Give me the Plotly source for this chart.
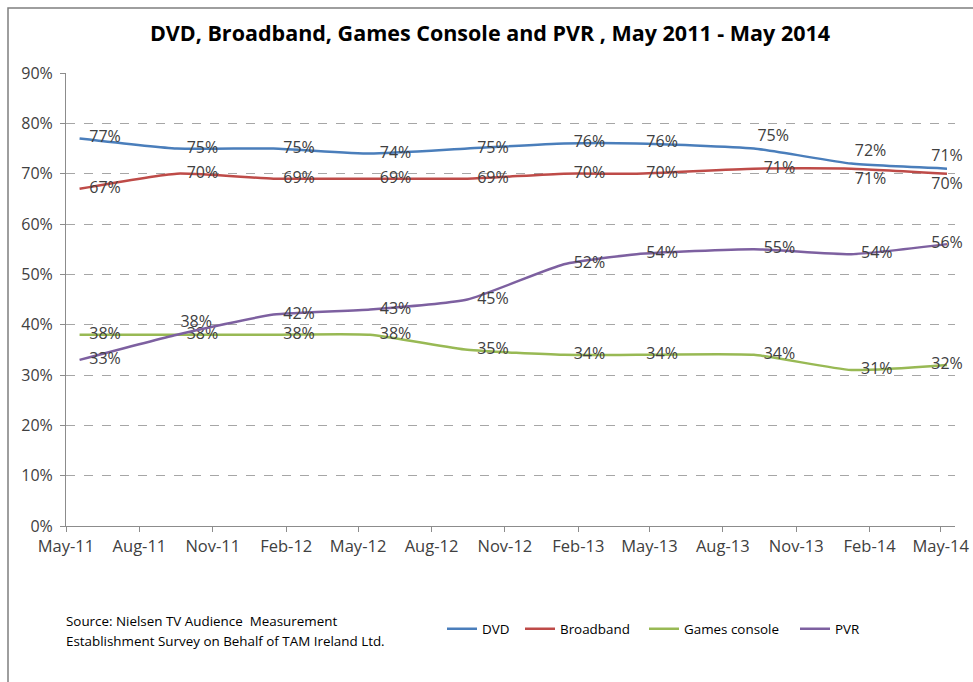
import plotly.graph_objects as go

# survey dates (points sit a little after the month tick in the source chart)
dates = ["2011-05-18", "2011-09-17", "2012-01-16", "2012-05-16", "2012-09-15",
         "2013-01-14", "2013-04-15", "2013-09-09", "2014-01-09", "2014-05-09"]

dvd = [77, 75, 75, 74, 75, 76, 76, 75, 72, 71]
broadband = [67, 70, 69, 69, 69, 70, 70, 71, 71, 70]
games_console = [38, 38, 38, 38, 35, 34, 34, 34, 31, 32]
pvr = [33, 38, 42, 43, 45, 52, 54, 55, 54, 56]

tick_dates = ["2011-05-01", "2011-08-01", "2011-11-01", "2012-02-01", "2012-05-01",
              "2012-08-01", "2012-11-01", "2013-02-01", "2013-05-01", "2013-08-01",
              "2013-11-01", "2014-02-01", "2014-05-01"]
tick_labels = ["May-11", "Aug-11", "Nov-11", "Feb-12", "May-12", "Aug-12", "Nov-12",
               "Feb-13", "May-13", "Aug-13", "Nov-13", "Feb-14", "May-14"]

FONT = "Open Sans"
TXT = "#404040"

W, H = 973, 682
ML, MR_, MT, MB = 66, 18, 73, 156
PW = W - ML - MR_
PH = H - MT - MB
BOTTOM = H - MB


def px_x(x):
    return (x - ML) / PW


def px_y(y):
    return (BOTTOM - y) / PH


MR = "middle right"
label_pos = {
    "DVD": [MR, MR, MR, MR, MR, MR, MR, "top right", "top right", "top center"],
    "Broadband": [MR, MR, MR, MR, MR, MR, MR, MR, "bottom right", "bottom center"],
    "Games console": [MR, MR, MR, MR, MR, MR, MR, MR, MR, "middle center"],
    "PVR": [MR, "top right", MR, MR, MR, MR, MR, MR, MR, "middle center"],
}

# one legend per series so the entries can sit where the original has them
legend_x = {"DVD": 442, "Broadband": 520, "Games console": 644, "PVR": 795}

series = [
    ("DVD", dvd, "#4A7EBB", "legend"),
    ("Broadband", broadband, "#BE4B48", "legend2"),
    ("Games console", games_console, "#98B954", "legend3"),
    ("PVR", pvr, "#7D60A0", "legend4"),
]

fig = go.Figure()

legends = {}
for name, vals, color, lg in series:
    pos = label_pos[name]
    fig.add_trace(
        go.Scatter(
            x=dates,
            y=[v / 100 for v in vals],
            mode="lines+markers+text",
            name=name,
            legend=lg,
            showlegend=True,
            text=[f"{v}%" for v in vals],
            textposition=pos,
            textfont=dict(family=FONT, size=16, color=TXT),
            # invisible markers only push the labels off the line
            marker=dict(size=[14 if p == MR else 4 for p in pos],
                        color="rgba(0,0,0,0)", line=dict(width=0)),
            line=dict(color=color, width=2.5, shape="spline", smoothing=0.5),
            cliponaxis=False,
        )
    )
    legends[lg] = dict(
        orientation="h",
        x=px_x(legend_x[name]),
        xanchor="left",
        y=px_y(629),
        yanchor="middle",
        font=dict(family=FONT, size=13.4, color="black"),
        bgcolor="rgba(0,0,0,0)",
    )

fig.update_layout(
    width=W,
    height=H,
    showlegend=True,
    margin=dict(l=ML, r=MR_, t=MT, b=MB, autoexpand=False),
    paper_bgcolor="white",
    plot_bgcolor="white",
    font=dict(family=FONT, color=TXT),
    title=dict(
        text="<b>DVD, Broadband, Games Console and PVR , May 2011 - May 2014</b>",
        x=490 / W,
        xanchor="center",
        y=1 - 33 / H,
        yanchor="middle",
        font=dict(family=FONT, size=21.5, color="black"),
    ),
    xaxis=dict(
        range=["2011-05-01", "2014-05-19"],
        tickmode="array",
        tickvals=tick_dates,
        ticktext=tick_labels,
        ticks="outside",
        ticklen=5,
        tickcolor="#8c8c8c",
        showline=True,
        linecolor="#8c8c8c",
        showgrid=False,
        zeroline=False,
        tickfont=dict(family=FONT, size=16.5, color=TXT),
    ),
    yaxis=dict(
        range=[0, 0.9],
        dtick=0.1,
        tickformat=".0%",
        ticks="outside",
        ticklen=5,
        tickcolor="#8c8c8c",
        ticklabelstandoff=4,
        showline=True,
        linecolor="#8c8c8c",
        showgrid=True,
        gridcolor="#a6a6a6",
        griddash="dash",
        gridwidth=1,
        zeroline=False,
        tickfont=dict(family=FONT, size=16, color=TXT),
    ),
    annotations=[
        dict(
            text=line,
            xref="paper",
            yref="paper",
            x=0,
            xshift=-2,
            y=px_y(fy),
            xanchor="left",
            yanchor="middle",
            align="left",
            showarrow=False,
            font=dict(family=FONT, size=13.4, color="black"),
        )
        for line, fy in [
            ("Source: Nielsen TV Audience  Measurement", 621),
            ("Establishment Survey on Behalf of TAM Ireland Ltd.", 641),
        ]
    ],
    shapes=[
        dict(
            type="rect",
            xref="paper",
            yref="paper",
            x0=px_x(8),
            x1=px_x(W + 10),
            y0=px_y(H + 10),
            y1=px_y(8),
            line=dict(color="#7f7f7f", width=1.5),
            layer="below",
        )
    ],
    **legends,
)

# drop the browser's default 8px body margin so the figure fills the window
fig.write_html(
    "out.html",
    config={"displayModeBar": False},
    post_script="document.body.style.margin='0';document.body.style.overflow='hidden';",
)
